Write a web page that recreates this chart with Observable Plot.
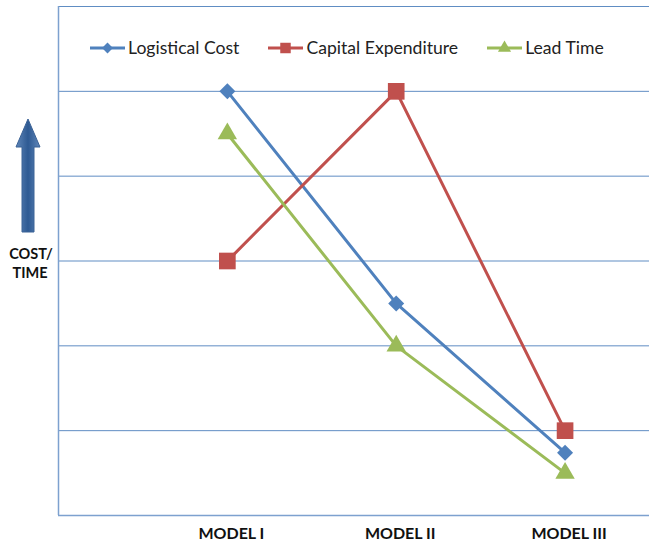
<!DOCTYPE html>
<html>
<head>
<meta charset="utf-8">
<script src="https://cdn.jsdelivr.net/npm/d3@7"></script>
<script src="https://cdn.jsdelivr.net/npm/@observablehq/plot@0.6"></script>
<style>
  html, body { margin: 0; padding: 0; background: #fff; }
  #wrap { position: relative; width: 649px; height: 543px; }
  .legend { position: absolute; top: 37px; left: 90px; display: flex; align-items: center;
            font-family: Lato, "Open Sans", sans-serif; font-size: 17.6px; color: #222; }
  .legend .item { display: flex; align-items: center; margin-right: 29px; }
  .legend svg { margin-right: 3px; }
</style>
</head>
<body>
<div id="wrap"></div>
<script>
const categories = ["MODEL I", "MODEL II", "MODEL III"];
const seriesNames = ["Logistical Cost", "Capital Expenditure", "Lead Time"];
const logisticalCost = [5, 2.5, 0.74];
const capitalExpenditure = [3, 5, 1];
const leadTime = [4.5, 2, 0.5];
const yGridTicks = [1, 2, 3, 4, 5, 6];
const colors = ["#4F81BD", "#C0504D", "#9BBB59"];
const symbols = ["diamond2", "square", "triangle"];
const radii = [7.2, 9.4, 7.2];

const values = [logisticalCost, capitalExpenditure, leadTime];
const data = [];
seriesNames.forEach((s, si) => categories.forEach((c, ci) => data.push({series: s, si, x: ci + 1, cat: c, y: values[si][ci]})));
const catData = categories.map((c, i) => ({x: i + 1, cat: c}));

const marks = [
  Plot.ruleY(yGridTicks, {stroke: "#4F81BD", strokeWidth: 1, strokeOpacity: 0.9}),
  Plot.ruleY([0], {stroke: "#7DA1CF", strokeWidth: 1.5}),
  Plot.ruleX([0], {stroke: "#7DA1CF", strokeWidth: 1.5}),
];
seriesNames.forEach((s, si) => {
  const d = data.filter(r => r.si === si);
  marks.push(Plot.line(d, {x: "x", y: "y", stroke: colors[si], strokeWidth: 3}));
});
seriesNames.forEach((s, si) => {
  const d = data.filter(r => r.si === si);
  marks.push(Plot.dot(d, {x: "x", y: "y", fill: colors[si], symbol: () => symbols[si], r: radii[si], stroke: "none"}));
});
marks.push(Plot.text(catData, {x: "x", y: 0, text: "cat", dy: 18, dx: 4, fontWeight: "bold", fontSize: 16,
  fontFamily: "Lato, 'Open Sans', sans-serif", fill: "#111"}));

const chart = Plot.plot({
  width: 649, height: 543,
  marginLeft: 58, marginRight: 0, marginTop: 6, marginBottom: 28,
  x: {domain: [0, 3.5], axis: null},
  y: {domain: [0, 6], axis: null},
  style: {overflow: "visible", background: "#fff"},
  marks
});
document.getElementById("wrap").appendChild(chart);

// Arrow and axis caption
const svg = d3.select(chart);
const defs = svg.append("defs");
const g = defs.append("linearGradient").attr("id", "arrowGrad").attr("x1", "0").attr("x2", "1").attr("y1", "0").attr("y2", "0");
g.append("stop").attr("offset", "0%").attr("stop-color", "#5F86B8");
g.append("stop").attr("offset", "50%").attr("stop-color", "#2E5A93");
g.append("stop").attr("offset", "100%").attr("stop-color", "#5F86B8");
svg.append("path")
  .attr("d", "M22,232 L22,147 L16,147 L28,119 L40,147 L34,147 L34,232 Z")
  .attr("fill", "url(#arrowGrad)").attr("stroke", "#3B6296").attr("stroke-width", 1);
const cap = svg.append("text").attr("font-family", "Lato, 'Open Sans', sans-serif").attr("font-weight", "bold")
  .attr("font-size", 14.5).attr("fill", "#111").attr("text-anchor", "middle");
cap.append("tspan").attr("x", 31).attr("y", 259).text("COST/");
cap.append("tspan").attr("x", 30).attr("y", 278).text("TIME");

// Legend
const leg = document.createElement("div");
leg.className = "legend";
seriesNames.forEach((s, si) => {
  const item = document.createElement("div");
  item.className = "item";
  const sw = d3.create("svg").attr("width", 35).attr("height", 18);
  sw.append("line").attr("x1", 0).attr("x2", 35).attr("y1", 9).attr("y2", 9).attr("stroke", colors[si]).attr("stroke-width", 3);
  const sym = {diamond2: d3.symbolDiamond2, square: d3.symbolSquare, triangle: d3.symbolTriangle}[symbols[si]];
  sw.append("path").attr("d", d3.symbol(sym, si === 1 ? 110 : 75)()).attr("transform", "translate(17.5,9)").attr("fill", colors[si]);
  item.appendChild(sw.node());
  const t = document.createElement("span");
  t.textContent = s;
  item.appendChild(t);
  leg.appendChild(item);
});
document.getElementById("wrap").appendChild(leg);
</script>
</body>
</html>
